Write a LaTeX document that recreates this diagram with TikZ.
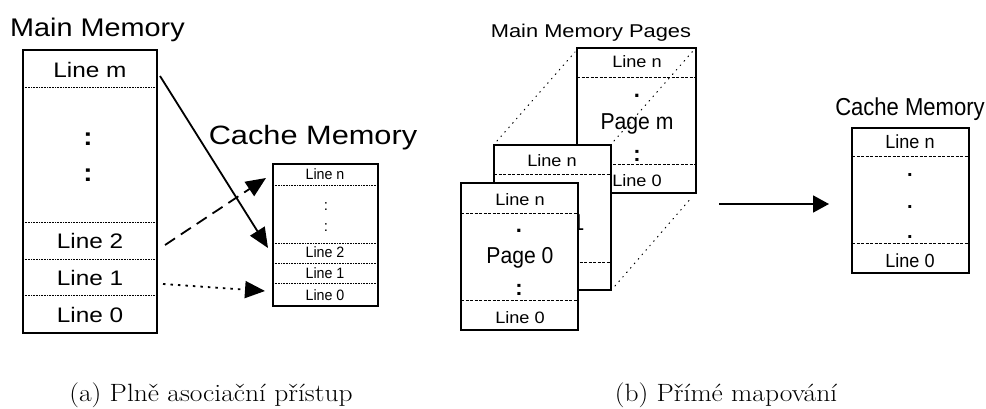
\documentclass[tikz,border=0pt]{standalone}
\usepackage{fontspec}
\setsansfont{Liberation Sans}
\usetikzlibrary{arrows.meta}
\newcommand{\SF}[3]{\scalebox{#2}[1]{\fontsize{#1pt}{#1pt}\sffamily\selectfont #3}}
\newcommand{\RM}[3]{\scalebox{#2}[1]{\fontsize{#1pt}{#1pt}\rmfamily\selectfont #3}}
\begin{document}
\begin{tikzpicture}[x=1pt,y=-1pt,
  box/.style={draw, line width=2pt, fill=white},
  sep/.style={line width=0.6pt, dash pattern=on 0.8pt off 0.8pt},
  dsep/.style={line width=0.6pt, dash pattern=on 3pt off 1.5pt},
  lbl/.style={inner sep=0pt, anchor=base},
  pers/.style={line width=1pt, dash pattern=on 0.9pt off 5pt, line cap=round},
  arr/.style={line width=1.8pt, -{Triangle[length=20pt,width=17pt]}}
]
\useasboundingbox[fill=white] (0,0) rectangle (986,409);

% ---------- (a) fully associative ----------
\node[lbl, anchor=base west] (mmT) at (10,37) {\SF{25.5}{1.13}{Main Memory}};
\draw[box] (23,50) rectangle (157,333);
\foreach \y in {87,222,259,295} \draw[sep] (23,\y) -- (157,\y);
\node[lbl] (mLm) at (90,78) {\SF{21}{1.16}{Line m}};
\node[lbl] (mC1) at (88,146) {\SF{25}{1.1}{\bfseries :}};
\node[lbl] (mC2) at (88,182) {\SF{25}{1.1}{\bfseries :}};
\node[lbl] (mL2) at (90,248) {\SF{21}{1.16}{Line 2}};
\node[lbl] (mL1) at (90,285) {\SF{21}{1.16}{Line 1}};
\node[lbl] (mL0) at (90,322) {\SF{21}{1.16}{Line 0}};

\node[lbl] (cmT) at (313,145) {\SF{26.5}{1.16}{Cache Memory}};
\draw[box] (273,164) rectangle (378,306);
\foreach \y in {185,243,263,283} \draw[sep] (273,\y) -- (378,\y);
\node[lbl] (cLn) at (325,180) {\SF{15}{0.95}{Line n}};
\node[lbl] (cC1) at (326,211) {\SF{15}{1}{:}};
\node[lbl] (cC2) at (326,231) {\SF{15}{1}{:}};
\node[lbl] (cL2) at (325,258) {\SF{15}{0.95}{Line 2}};
\node[lbl] (cL1) at (325,278) {\SF{15}{0.95}{Line 1}};
\node[lbl] (cL0) at (325,300) {\SF{15}{0.95}{Line 0}};

\coordinate (aS1) at (160,76);  \coordinate (aE1) at (268,248);
\coordinate (aS2) at (165,245); \coordinate (aE2) at (266,178);
\coordinate (aS3) at (163,284); \coordinate (aE3) at (265,291);
\draw[arr] (aS1) -- (aE1);
\draw[arr, dash pattern=on 12pt off 7pt] (aS2) -- (aE2);
\draw[arr, dash pattern=on 2.5pt off 5pt] (aS3) -- (aE3);

% ---------- (b) direct mapped ----------
\node[lbl] (mpT) at (591,38) {\SF{18.5}{1.18}{Main Memory Pages}};

% page m
\draw[box] (577,48) rectangle (696,193);
\foreach \y in {77,164} \draw[dsep] (577,\y) -- (696,\y);
\node[lbl] (pmLn) at (637,68) {\SF{16.5}{1.1}{Line n}};
\node[lbl] (pmD)  at (637,98) {\SF{22}{1}{\bfseries .}};
\node[lbl] (pmP)  at (637,130) {\SF{23}{0.92}{Page m}};
\node[lbl] (pmC)  at (637,162) {\SF{22}{1}{\bfseries :}};
\node[lbl] (pmL0) at (637,187) {\SF{16.5}{1.1}{Line 0}};

% page 1
\draw[box] (494,145) rectangle (611,290);
\foreach \y in {174,262} \draw[dsep] (494,\y) -- (611,\y);
\node[lbl] (p1Ln) at (552,167) {\SF{16.5}{1.1}{Line n}};
\node[lbl] (p1P)  at (551,230) {\SF{23}{0.92}{Page 1}};

% page 0
\draw[box] (461,183) rectangle (578,330);
\foreach \y in {213,300} \draw[dsep] (461,\y) -- (578,\y);
\node[lbl] (p0Ln) at (520,205) {\SF{16.5}{1.1}{Line n}};
\node[lbl] (p0D)  at (519,233) {\SF{22}{1}{\bfseries .}};
\node[lbl] (p0P)  at (520,263) {\SF{23}{0.92}{Page 0}};
\node[lbl] (p0C)  at (519,295) {\SF{22}{1}{\bfseries :}};
\node[lbl] (p0L0) at (520,323) {\SF{16.5}{1.1}{Line 0}};

% perspective lines
\coordinate (q1a) at (497,141); \coordinate (q1b) at (575,52);
\coordinate (q2a) at (614,141); \coordinate (q2b) at (693,51);
\coordinate (q3a) at (615,286); \coordinate (q3b) at (692,197);
\draw[pers] (q1a) -- (q1b);
\draw[pers] (q2a) -- (q2b);
\draw[pers] (q3a) -- (q3b);

% arrow to cache
\coordinate (bS) at (719,204); \coordinate (bE) at (829,204);
\draw[arr, -{Triangle[length=16pt,width=17pt]}] (bS) -- (bE);

% cache memory (b)
\node[lbl] (c2T) at (910,116) {\SF{24.5}{0.9}{Cache Memory}};
\draw[box] (852,128) rectangle (969,273);
\foreach \y in {156,243} \draw[dsep] (852,\y) -- (969,\y);
\node[lbl] (c2Ln) at (910,149) {\SF{19}{0.95}{Line n}};
\node[lbl] (c2D1) at (910,177) {\SF{20}{1}{\bfseries .}};
\node[lbl] (c2D2) at (910,208) {\SF{20}{1}{\bfseries .}};
\node[lbl] (c2D3) at (910,238) {\SF{20}{1}{\bfseries .}};
\node[lbl] (c2L0) at (910,267) {\SF{19}{0.95}{Line 0}};

% captions
\node[lbl] (capA) at (211,401) {\RM{25}{1.1}{(a) Plně asociační přístup}};
\node[lbl] (capB) at (726,401) {\RM{25}{1.1}{(b) Přímé mapování}};
\end{tikzpicture}
\end{document}
